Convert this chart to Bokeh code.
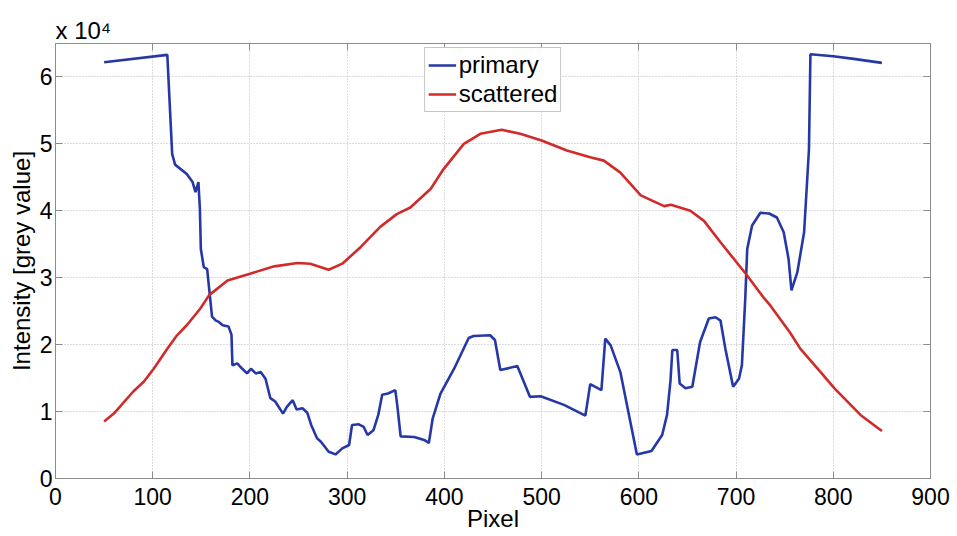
from bokeh.plotting import figure
from bokeh.models import LinearAxis, FixedTicker, Legend, LegendItem
from bokeh.embed import file_html
from bokeh.resources import INLINE

# ---- data ----
primary_x = [50, 115, 120, 123, 135, 141, 144, 147, 148.5, 149.5, 152.5, 156, 158, 161, 165, 168,
             172, 178, 181, 182, 187, 190, 197, 201, 206, 211, 216, 221, 226, 234, 238, 244, 248,
             254, 259, 263, 269, 273, 281, 288, 295, 302, 305, 312, 317, 321, 327, 332, 336, 342,
             349.5, 351.5, 355, 369, 380, 384, 388, 396, 410, 425, 430, 447, 452, 457.5, 475, 488,
             499, 523, 545, 550, 561.5, 565.5, 571, 581, 598, 613, 624, 629, 632.5, 634.5, 639.5,
             642, 648, 655, 663, 672, 679, 684, 689, 697, 703, 706, 709.5, 711.5, 716.5, 725, 734,
             742, 749, 754, 757, 763, 770, 775, 776.5, 800, 821, 850]
primary_y = [62200, 63300, 48500, 46900, 45500, 44300, 42800, 44300, 40300, 34300, 31600, 31300,
             28400, 24200, 23600, 23400, 22900, 22700, 21500, 16900, 17200, 16700, 15700, 16400,
             15700, 15900, 14900, 12000, 11500, 9700, 10700, 11700, 10300, 10500, 9800, 8000, 6000,
             5500, 4000, 3600, 4500, 5000, 8000, 8100, 7700, 6500, 7200, 9500, 12500, 12700, 13200,
             11000, 6300, 6200, 5700, 5300, 9000, 12700, 16400, 21000, 21300, 21400, 20700, 16200,
             16800, 12200, 12300, 11000, 9400, 14100, 13200, 20900, 19900, 15900, 3600, 4100, 6500,
             9500, 14500, 19200, 19200, 14200, 13500, 13700, 20400, 23900, 24100, 23600, 19400,
             13700, 14900, 16900, 27000, 34300, 37800, 39700, 39600, 39000, 36800, 32800, 28100,
             30800, 36800, 49200, 63400, 63100, 62700, 62100]

scattered_x = [50, 60, 80, 91, 101, 115, 125, 135, 149, 158, 177, 200, 225, 249, 262, 281, 295,
               314, 334, 351, 365, 386, 399, 420, 437, 459, 478, 500, 526, 550, 564, 581, 602,
               626, 633, 653, 667, 684, 710, 729, 735, 756, 766, 787, 801, 828, 850]
scattered_y = [8500, 9700, 13000, 14500, 16400, 19400, 21400, 22900, 25400, 27400, 29600, 30600,
               31700, 32200, 32100, 31200, 32100, 34600, 37600, 39500, 40500, 43300, 46200, 50000,
               51500, 52100, 51500, 50500, 49000, 48000, 47500, 45700, 42300, 40700, 40900, 40000,
               38500, 35300, 30600, 26900, 25900, 21700, 19400, 15900, 13500, 9500, 7100]

series_names = ["primary", "scattered"]
x_ticks = [0, 100, 200, 300, 400, 500, 600, 700, 800, 900]
y_ticks = [0, 10000, 20000, 30000, 40000, 50000, 60000]
y_tick_labels = ["0", "1", "2", "3", "4", "5", "6"]
y_scale_note = "x 10\u2074"

# ---- styling ----
FONT = "Liberation Sans"
AX_COLOR = "#8c8c8c"
BLUE = "#2638a6"
RED = "#d22a2a"

W, H = 955, 534
p = figure(width=W, height=H, x_range=(0, 900), y_range=(0, 65000),
           output_backend="svg", toolbar_location=None,
           min_border_left=55, min_border_right=W - 930, min_border_top=43,
           min_border_bottom=H - 480, title=y_scale_note)
p.background_fill_color = "white"
p.border_fill_color = "white"
p.outline_line_color = AX_COLOR

p.title.align = "left"
p.title.offset = 0
p.title.standoff = 0
p.title.text_font = FONT
p.title.text_font_size = "24px"
p.title.text_font_style = "normal"
p.title.text_color = "black"

r1 = p.line(primary_x, primary_y, line_color=BLUE, line_width=2.6)
r2 = p.line(scattered_x, scattered_y, line_color=RED, line_width=2.6)

def style_axis(ax):
    ax.axis_line_color = AX_COLOR
    ax.major_tick_line_color = AX_COLOR
    ax.major_tick_in = 7
    ax.major_tick_out = 0
    ax.minor_tick_line_color = None
    ax.major_label_text_font = FONT
    ax.major_label_text_font_size = "23px"
    ax.major_label_text_color = "black"
    ax.axis_label_text_font = FONT
    ax.axis_label_text_font_size = "24px"
    ax.axis_label_text_font_style = "normal"
    ax.axis_label_text_color = "black"

xa = p.xaxis[0]
ya = p.yaxis[0]
xa.ticker = FixedTicker(ticks=x_ticks)
ya.ticker = FixedTicker(ticks=y_ticks)
ya.major_label_overrides = {t: l for t, l in zip(y_ticks, y_tick_labels)}
style_axis(xa)
style_axis(ya)
xa.axis_label = "Pixel"
ya.axis_label = "Intensity [grey value]"
xa.major_label_standoff = 9
ya.major_label_standoff = 3
xa.axis_label_standoff = -3
ya.axis_label_standoff = 2

# box: ticks on top and right, no labels
xt = LinearAxis(ticker=FixedTicker(ticks=x_ticks))
yr = LinearAxis(ticker=FixedTicker(ticks=y_ticks))
for ax, ticks in ((xt, x_ticks), (yr, y_ticks)):
    style_axis(ax)
    ax.major_label_overrides = {t: "" for t in ticks}
    ax.major_label_text_font_size = "1px"
    ax.major_label_standoff = 0
p.add_layout(xt, "above")
p.add_layout(yr, "right")

p.xgrid.ticker = FixedTicker(ticks=x_ticks)
p.ygrid.ticker = FixedTicker(ticks=y_ticks)
for g in (p.xgrid[0], p.ygrid[0]):
    g.grid_line_color = "#b8b8b8"
    g.grid_line_dash = "1 2"
    g.grid_line_width = 1

legend = Legend(items=[LegendItem(label=series_names[0], renderers=[r1]),
                       LegendItem(label=series_names[1], renderers=[r2])],
                location="top_center")
legend.margin = 4
legend.padding = 3
legend.spacing = 1
legend.glyph_width = 28
legend.glyph_height = 28
legend.label_standoff = 3
legend.label_height = 28
legend.label_text_font = FONT
legend.label_text_font_size = "24px"
legend.label_text_color = "black"
legend.border_line_color = AX_COLOR
legend.border_line_width = 1
legend.background_fill_color = "white"
legend.background_fill_alpha = 1
p.add_layout(legend, "center")

open("out.html", "w").write(file_html(p, INLINE))
